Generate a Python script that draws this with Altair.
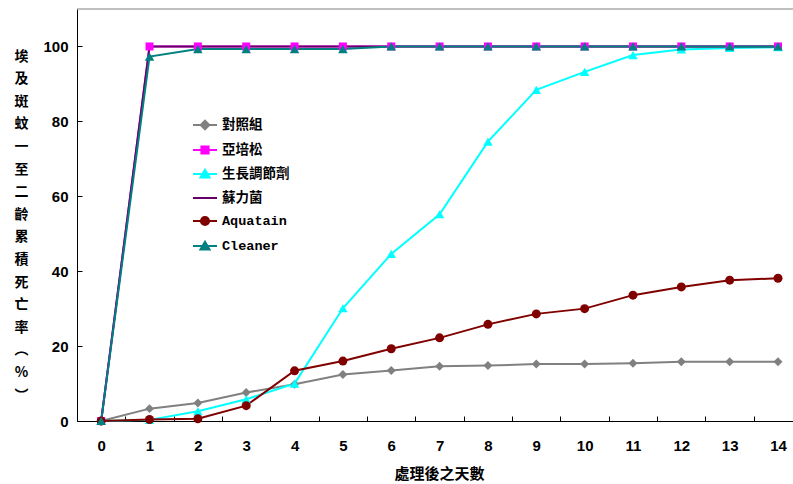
import altair as alt
import pandas as pd

# Days after treatment
DAYS = list(range(15))

SERIES = ["對照組", "亞培松", "生長調節劑", "蘇力菌", "Aquatain", "Cleaner"]

# Cumulative mortality (%) of 1st–2nd instar Aedes aegypti larvae
CONTROL = [0, 3.3, 4.8, 7.6, 9.8, 12.4, 13.5, 14.6, 14.8, 15.2, 15.2, 15.4, 15.8, 15.8, 15.8]
ABATE = [0, 100, 100, 100, 100, 100, 100, 100, 100, 100, 100, 100, 100, 100, 100]
IGR = [0, 0.3, 2.6, 5.8, 10.0, 30.1, 44.6, 55.2, 74.6, 88.4, 93.2, 97.7, 99.2, 99.6, 99.8]
BTI = [0, 100, 100, 100, 100, 100, 100, 100, 100, 100, 100, 100, 100, 100, 100]
AQUATAIN = [0, 0.4, 0.6, 4.1, 13.4, 16.0, 19.3, 22.2, 25.8, 28.6, 30.0, 33.6, 35.8, 37.6, 38.1]
CLEANER = [0, 97.3, 99.3, 99.3, 99.3, 99.3, 100, 100, 100, 100, 100, 100, 100, 100, 100]

VALUES = [CONTROL, ABATE, IGR, BTI, AQUATAIN, CLEANER]
COLORS = ["#808080", "#FF00FF", "#00FFFF", "#660066", "#800000", "#008080"]
MARKERS = ["diamond", "square", "triangle-up", None, "circle", "triangle-up"]
MARKER_SIZE = [80, 64, 90, 0, 81, 90]

# Legend symbols: a short line with the series marker on it
LEGEND_PATHS = [
    "M-1,0H1M0,-0.36L0.36,0L0,0.36L-0.36,0Z",
    "M-1,0H1M-0.3,-0.3H0.3V0.3H-0.3Z",
    "M-1,0H1M0,-0.36L0.38,0.3L-0.38,0.3Z",
    "M-1,0H1",
    "M-1,0H1M-0.34,0A0.34,0.34 0 1,0 0.34,0A0.34,0.34 0 1,0 -0.34,0Z",
    "M-1,0H1M0,-0.36L0.38,0.3L-0.38,0.3Z",
]

Y_TITLE = list("埃及斑蚊一至二齡累積死亡率") + ["︵", "%", "︶"]
X_TITLE = "處理後之天數"

rows = []
for name, vals in zip(SERIES, VALUES):
    for d, v in zip(DAYS, vals):
        rows.append({"day": d, "value": v, "series": name})
df = pd.DataFrame(rows)

TICK_FONT = "Liberation Sans"
CJK_FONT = "Noto Sans CJK TC"

X_SCALE = alt.Scale(domain=[-0.5, 14.31], nice=False, zero=False)
Y_SCALE = alt.Scale(domain=[0, 110], nice=False)
X_TICKS = [i + 0.5 for i in range(-1, 14)]
Y_TICKS = [0, 20, 40, 60, 80, 100]

# Axis with labels, title and axis line
x_main = alt.X("day:Q", scale=X_SCALE, axis=alt.Axis(
    orient="bottom", values=DAYS, format="d", ticks=False, grid=False,
    domainColor="black", labelOverlap=False, labelFlush=False,
    labelFont=TICK_FONT, labelFontSize=15, labelFontWeight="bold", labelColor="black",
    labelPadding=17,
    title=X_TITLE, titleFont=CJK_FONT, titleFontSize=15, titleFontWeight="bold",
    titleColor="black", titlePadding=13, titleX=362,
))
y_main = alt.Y("value:Q", scale=Y_SCALE, axis=alt.Axis(
    orient="left", values=Y_TICKS, ticks=False, grid=False, domainColor="black",
    labelFont=TICK_FONT, labelFontSize=15, labelFontWeight="bold", labelColor="black",
    labelPadding=9,
    title=Y_TITLE, titleAngle=0, titleAlign="center", titleBaseline="top",
    titleX=-56, titleY=40, titleLineHeight=22.6,
    titleFont=CJK_FONT, titleFontSize=14, titleFontWeight="bold", titleColor="black",
))

# Tick-only axes shifted inside the plot so the ticks point inward
x_ticks = alt.X("day:Q", scale=X_SCALE, axis=alt.Axis(
    orient="bottom", values=X_TICKS, offset=-5, tickSize=5, tickColor="black",
    domain=False, labels=False, grid=False, title=None,
))
y_ticks = alt.Y("value:Q", scale=Y_SCALE, axis=alt.Axis(
    orient="left", values=Y_TICKS, offset=-5, tickSize=5, tickColor="black",
    domain=False, labels=False, grid=False, title=None,
))

x_plain = alt.X("day:Q", scale=X_SCALE, axis=None)
y_plain = alt.Y("value:Q", scale=Y_SCALE, axis=None)

base = alt.Chart(df)

lines = []
for i, (name, col) in enumerate(zip(SERIES, COLORS)):
    if i == 0:
        xe, ye = x_main, y_main
    elif i == 1:
        xe, ye = x_ticks, y_ticks
    else:
        xe, ye = x_plain, y_plain
    lines.append(
        base.transform_filter(alt.datum.series == name)
        .mark_line(color=col, strokeWidth=2)
        .encode(x=xe, y=ye)
    )

points = [
    base.transform_filter(alt.datum.series == name)
    .mark_point(shape=shp, filled=True, size=sz, color=col, opacity=1)
    .encode(x=x_plain, y=y_plain)
    for name, col, shp, sz in zip(SERIES, COLORS, MARKERS, MARKER_SIZE)
    if shp is not None
]

# Top border of the plot area at the upper end of the y scale
top_border = alt.Chart(pd.DataFrame({"value": [110]})).mark_rule(
    color="#808080", strokeWidth=1
).encode(y=y_plain)

legend_props = dict(
    orient="none",
    legendX=115,
    legendY=103,
    title=None,
    padding=0,
    symbolSize=576,
    symbolStrokeWidth=2,
    symbolOpacity=1,
    labelFont="Liberation Mono, " + CJK_FONT,
    labelFontSize=13.5,
    labelFontWeight="bold",
    labelColor="black",
    labelOffset=4,
    rowPadding=3,
)

legend_layer = (
    base.transform_filter("false")
    .mark_point(filled=True, strokeWidth=2, opacity=1)
    .encode(
        x=x_plain,
        y=y_plain,
        fill=alt.Fill("series:N", scale=alt.Scale(domain=SERIES, range=COLORS),
                      legend=alt.Legend(**legend_props)),
        stroke=alt.Stroke("series:N", scale=alt.Scale(domain=SERIES, range=COLORS),
                          legend=alt.Legend(**legend_props)),
        shape=alt.Shape("series:N", scale=alt.Scale(domain=SERIES, range=LEGEND_PATHS),
                        legend=alt.Legend(**legend_props)),
    )
)

chart = (
    alt.layer(top_border, *lines, *points, legend_layer)
    .resolve_axis(x="independent", y="independent")
    .properties(
        width=716,
        height=412,
        autosize=alt.AutoSizeParams(type="none"),
        padding={"left": 77, "top": 9, "right": 0, "bottom": 63},
        background="white",
    )
    .configure_view(stroke=None)
)

chart.save("out.html", embed_options={"renderer": "svg", "actions": False})
